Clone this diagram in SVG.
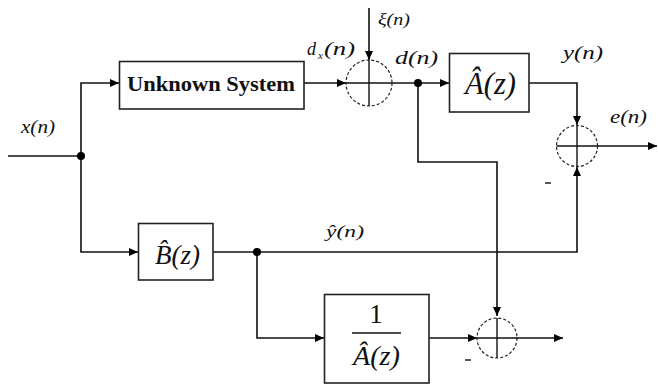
<svg xmlns="http://www.w3.org/2000/svg" width="658" height="387" viewBox="0 0 658 387">
<style>
.ln{fill:none;stroke:#111;stroke-width:1.6}
.bx{fill:#fff;stroke:#222;stroke-width:1.6}
.sc{fill:none;stroke:#222;stroke-width:1.2;stroke-dasharray:3 2}
.cr{stroke:#111;stroke-width:1.4}
text{fill:#111}
.m{font-style:italic}
.b{font-weight:bold}
.dot{fill:#000}
</style>
<defs>
<marker id="ar" markerWidth="10" markerHeight="8" refX="9" refY="4" orient="auto" markerUnits="userSpaceOnUse">
<path d="M0,0 L9,4 L0,8 Z" fill="#000"/>
</marker>
</defs>
<rect width="658" height="387" fill="#fff"/>
<g id="connectors">
<path class="ln" d="M8,156 H81"/>
<path class="ln" d="M81,156 V83 H119" marker-end="url(#ar)"/>
<path class="ln" d="M81,156 V252 H138" marker-end="url(#ar)"/>
<path class="ln" d="M304,83 H346" marker-end="url(#ar)"/>
<path class="ln" d="M369,8 V60" marker-end="url(#ar)"/>
<path class="ln" d="M392,83 H449" marker-end="url(#ar)"/>
<path class="ln" d="M529,83 H577 V125" marker-end="url(#ar)"/>
<path class="ln" d="M597,146 H657" marker-end="url(#ar)"/>
<path class="ln" d="M418,83 V162 H497 V316" marker-end="url(#ar)"/>
<path class="ln" d="M213,252 H577 V167" marker-end="url(#ar)"/>
<path class="ln" d="M257,252 V338 H324" marker-end="url(#ar)"/>
<path class="ln" d="M429,338 H477" marker-end="url(#ar)"/>
<path class="ln" d="M516,338 H563" marker-end="url(#ar)"/>
<circle class="dot" cx="81" cy="156" r="4"/>
<circle class="dot" cx="418" cy="83" r="4"/>
<circle class="dot" cx="257" cy="252" r="4"/>
</g>
<g font-family="Liberation Serif, DejaVu Serif, serif">
<g id="unknown">
<rect class="bx" x="119.5" y="61.5" width="184.5" height="47.5"/>
<text class="b" x="211" y="91" font-size="21" text-anchor="middle" textLength="168" lengthAdjust="spacingAndGlyphs">Unknown System</text>
</g>
<g id="sum1">
<circle class="sc" cx="369" cy="83" r="23"/>
<line class="cr" x1="369" y1="60" x2="369" y2="106"/>
<line class="cr" x1="346" y1="83" x2="392" y2="83"/>
</g>
<g id="A">
<rect class="bx" x="449.5" y="53.5" width="79.5" height="58.5"/>
<text class="m" x="465" y="94" font-size="31" textLength="51" lengthAdjust="spacingAndGlyphs">Â(z)</text>
</g>
<g id="sum2">
<circle class="sc" cx="577" cy="146" r="20.5"/>
<line class="cr" x1="577" y1="125.5" x2="577" y2="166.5"/>
<line class="cr" x1="556.5" y1="146" x2="597.5" y2="146"/>
</g>
<g id="B">
<rect class="bx" x="138.5" y="223.5" width="74.5" height="56.5"/>
<text class="m" x="155" y="264" font-size="28" textLength="45" lengthAdjust="spacingAndGlyphs">B̂(z)</text>
</g>
<g id="invA">
<rect class="bx" x="324.5" y="294.5" width="104.5" height="88.5"/>
<text x="376" y="323" font-size="27" text-anchor="middle">1</text>
<line class="cr" x1="352" y1="333" x2="401" y2="333"/>
<text class="m" x="353" y="365" font-size="28" textLength="47" lengthAdjust="spacingAndGlyphs">Â(z)</text>
</g>
<g id="sum3">
<circle class="sc" cx="497" cy="338" r="20"/>
<line class="cr" x1="497" y1="318" x2="497" y2="358"/>
<line class="cr" x1="477" y1="338" x2="517" y2="338"/>
</g>
<g id="labels">
<text class="m" x="21" y="133" font-size="18" textLength="34" lengthAdjust="spacingAndGlyphs">x(n)</text>
<text class="m" x="307" y="55" font-size="18">d</text>
<text class="m" x="318" y="59" font-size="11">x</text>
<text class="m" x="324" y="55" font-size="18" textLength="31" lengthAdjust="spacingAndGlyphs">(n)</text>
<text class="m" x="378" y="25" font-size="17" textLength="32" lengthAdjust="spacingAndGlyphs">ξ(n)</text>
<text class="m" x="395" y="64" font-size="18" textLength="43" lengthAdjust="spacingAndGlyphs">d(n)</text>
<text class="m" x="563" y="59" font-size="18" textLength="40" lengthAdjust="spacingAndGlyphs">y(n)</text>
<text class="m" x="610" y="123" font-size="18" textLength="37" lengthAdjust="spacingAndGlyphs">e(n)</text>
<text class="m" x="326" y="237" font-size="17" textLength="38" lengthAdjust="spacingAndGlyphs">ŷ(n)</text>
<line class="cr" x1="545" y1="183" x2="551" y2="183"/>
<line class="cr" x1="465" y1="360" x2="471" y2="360"/>
</g>
</g>
</svg>
